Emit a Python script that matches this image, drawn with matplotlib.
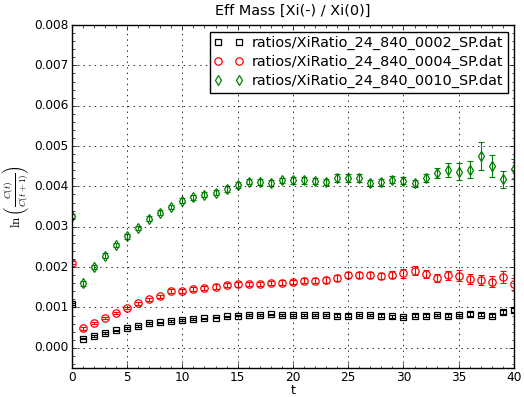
import matplotlib
matplotlib.use("Agg")
import matplotlib.pyplot as plt
from matplotlib.ticker import AutoMinorLocator, MultipleLocator, FormatStrFormatter
import numpy as np

plt.style.use("classic")

t = np.arange(0, 41)

# ratios/XiRatio_24_840_0002_SP.dat
m_0002 = [0.00108, 0.00023, 0.00030, 0.00037, 0.00043, 0.00049, 0.00054, 0.00061,
          0.00063, 0.00066, 0.00069, 0.00072, 0.00073, 0.00075, 0.00078, 0.00080,
          0.00081, 0.00082, 0.00083, 0.00082, 0.00081, 0.00081, 0.00081, 0.00081,
          0.00080, 0.00080, 0.00081, 0.00081, 0.00080, 0.00078, 0.00077, 0.00080,
          0.00080, 0.00082, 0.00080, 0.00081, 0.00084, 0.00082, 0.00080, 0.00089,
          0.00094]
e_0002 = [0.00003, 0.00002, 0.00002, 0.00002, 0.00002, 0.00002, 0.00002, 0.00002,
          0.00002, 0.00002, 0.00002, 0.00002, 0.00002, 0.00002, 0.00002, 0.00002,
          0.00002, 0.00002, 0.00002, 0.00002, 0.00002, 0.00002, 0.00002, 0.00002,
          0.00003, 0.00003, 0.00003, 0.00003, 0.00003, 0.00003, 0.00003, 0.00003,
          0.00003, 0.00003, 0.00003, 0.00003, 0.00004, 0.00004, 0.00004, 0.00005,
          0.00005]

# ratios/XiRatio_24_840_0004_SP.dat
m_0004 = [0.00211, 0.00048, 0.00061, 0.00074, 0.00087, 0.00099, 0.00110, 0.00120,
          0.00128, 0.00140, 0.00140, 0.00145, 0.00148, 0.00152, 0.00155, 0.00157,
          0.00158, 0.00158, 0.00161, 0.00161, 0.00163, 0.00166, 0.00166, 0.00168,
          0.00173, 0.00180, 0.00181, 0.00180, 0.00178, 0.00181, 0.00185, 0.00191,
          0.00183, 0.00174, 0.00180, 0.00179, 0.00170, 0.00168, 0.00164, 0.00175,
          0.00158]
e_0004 = [0.00004, 0.00003, 0.00003, 0.00003, 0.00003, 0.00003, 0.00004, 0.00004,
          0.00004, 0.00005, 0.00005, 0.00005, 0.00005, 0.00005, 0.00005, 0.00005,
          0.00005, 0.00005, 0.00005, 0.00006, 0.00006, 0.00006, 0.00006, 0.00007,
          0.00007, 0.00008, 0.00008, 0.00008, 0.00008, 0.00009, 0.00011, 0.00011,
          0.00009, 0.00010, 0.00011, 0.00013, 0.00012, 0.00013, 0.00014, 0.00015,
          0.00014]

# ratios/XiRatio_24_840_0010_SP.dat
m_0010 = [0.00326, 0.00160, 0.00201, 0.00228, 0.00255, 0.00276, 0.00297, 0.00320,
          0.00335, 0.00349, 0.00365, 0.00373, 0.00379, 0.00384, 0.00393, 0.00403,
          0.00412, 0.00411, 0.00409, 0.00415, 0.00415, 0.00415, 0.00414, 0.00411,
          0.00421, 0.00421, 0.00421, 0.00408, 0.00410, 0.00417, 0.00414, 0.00408,
          0.00420, 0.00433, 0.00441, 0.00436, 0.00441, 0.00476, 0.00451, 0.00418,
          0.00444]
e_0010 = [0.00005, 0.00006, 0.00005, 0.00006, 0.00006, 0.00006, 0.00006, 0.00006,
          0.00006, 0.00006, 0.00006, 0.00006, 0.00006, 0.00006, 0.00007, 0.00007,
          0.00007, 0.00007, 0.00007, 0.00007, 0.00008, 0.00008, 0.00008, 0.00008,
          0.00011, 0.00010, 0.00010, 0.00008, 0.00008, 0.00009, 0.00009, 0.00009,
          0.00010, 0.00012, 0.00017, 0.00021, 0.00021, 0.00035, 0.00028, 0.00021,
          0.00025]

series = [
    ("ratios/XiRatio_24_840_0002_SP.dat", m_0002, e_0002, "k", "s", 4.8),
    ("ratios/XiRatio_24_840_0004_SP.dat", m_0004, e_0004, "r", "o", 5.3),
    ("ratios/XiRatio_24_840_0010_SP.dat", m_0010, e_0010, "g", "d", 5.5),
]

fig = plt.figure(figsize=(5.24, 3.97), dpi=100, facecolor="white")
ax = fig.add_axes([0.137, 0.073, 0.844, 0.864])

for nome, m, e, cor, marc, ms in series:
    ax.errorbar(t, m, yerr=e, fmt="none", ecolor=cor, elinewidth=0.8,
                capsize=2.4, capthick=0.8)
    ax.plot(t, m, marc, mfc="none", mec=cor, ms=ms, mew=0.9, label=nome)

ax.set_xlim(0, 40)
ax.set_ylim(-0.0005, 0.008)
ax.xaxis.set_major_locator(MultipleLocator(5))
ax.yaxis.set_major_locator(MultipleLocator(0.001))
ax.xaxis.set_minor_locator(AutoMinorLocator(5))
ax.yaxis.set_minor_locator(AutoMinorLocator(5))
ax.yaxis.set_major_formatter(FormatStrFormatter("%.3f"))
ax.tick_params(which="major", labelsize=8.7, pad=2.5, length=3.5)
ax.tick_params(which="minor", length=1.8)
ax.grid(True, color="k", linestyle=":", linewidth=0.6)

ax.set_title("Eff Mass [Xi(-) / Xi(0)]", fontsize=10.4, y=1.01)
ax.set_xlabel("t", fontsize=9, labelpad=0)
ax.set_ylabel(r"$\ln\left(\frac{C(t)}{C(t+1)}\right)$", fontsize=9.5, labelpad=2)

ax.legend(loc="upper right", numpoints=2, fontsize=10.4, fancybox=False,
          borderaxespad=0.45, handletextpad=0.6, labelspacing=0.35,
          handlelength=2.0, borderpad=0.3)

fig.savefig("out.png", dpi=100, facecolor="white")
